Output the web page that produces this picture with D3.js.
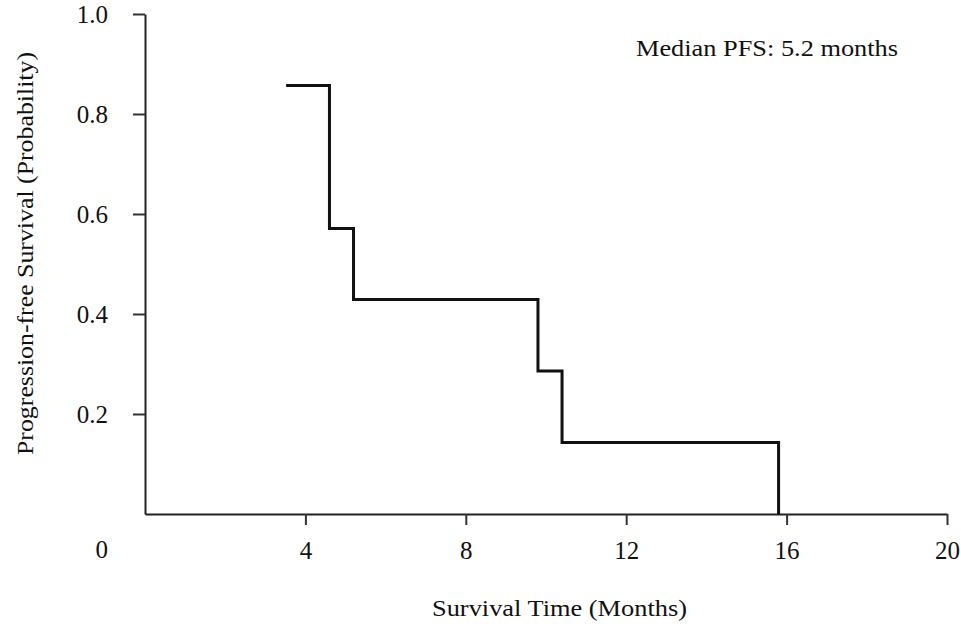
<!DOCTYPE html>
<html lang="en">
<head>
    <meta charset="UTF-8">
    <title>Progression-free Survival</title>
    <script src="https://d3js.org/d3.v7.min.js"></script>
    <style>
        body { margin: 0; background: #fff; }
        text { font-family: "Liberation Serif", "Times New Roman", serif; fill: #111; }
    </style>
</head>
<body>
    <script>
        // Kaplan-Meier steps (time in months, survival probability)
        var stepTimes = [3.52, 4.6, 5.2, 9.8, 10.4, 15.8];
        var stepSurv  = [0.857, 0.571, 0.429, 0.286, 0.143, 0];
        var xTicks = [4, 8, 12, 16, 20];
        var yTicks = [0.2, 0.4, 0.6, 0.8, 1.0];

        var margin = {top: 14, right: 14, bottom: 110, left: 145};

        var x = d3.scaleLinear().domain([0, 20]).range([0, 802]);
        var y = d3.scaleLinear().domain([0, 1]).range([500, 0]);

        var svg = d3.select("body").append("svg")
            .attr("width", 961)
            .attr("height", 624)
          .append("g")
            .attr("transform", "translate(" + margin.left + "," + margin.top + ")");

        // x axis
        var xAxis = svg.append("g")
            .attr("transform", "translate(0,500)")
            .call(d3.axisBottom(x).tickValues(xTicks).tickSize(11).tickPadding(16).tickSizeOuter(0));
        xAxis.select(".domain").attr("stroke", "#222").attr("stroke-width", 2);
        xAxis.selectAll(".tick line").attr("stroke", "#333").attr("stroke-width", 2);
        xAxis.selectAll("text").style("font-size", "25px").attr("fill", "#111")
            .style("font-family", "Liberation Serif, serif");

        // y axis
        var yAxis = svg.append("g")
            .call(d3.axisLeft(y).tickValues(yTicks).tickFormat(d3.format(".1f"))
                .tickSize(12).tickPadding(25).tickSizeOuter(0));
        yAxis.select(".domain").attr("stroke", "#222").attr("stroke-width", 2);
        yAxis.selectAll(".tick line").attr("stroke", "#333").attr("stroke-width", 2);
        yAxis.selectAll("text").style("font-size", "25px").attr("fill", "#111")
            .style("font-family", "Liberation Serif, serif");

        // the lone "0" at the corner
        svg.append("text")
            .attr("x", -37)
            .attr("y", y(0) + 44)
            .style("text-anchor", "end")
            .style("font-size", "25px")
            .text("0");

        // survival curve
        var pts = [[stepTimes[0], stepSurv[0]]];
        for (var i = 1; i < stepTimes.length; i++) {
            pts.push([stepTimes[i], stepSurv[i - 1]]);
            pts.push([stepTimes[i], stepSurv[i]]);
        }
        svg.append("path")
            .datum(pts)
            .attr("fill", "none")
            .attr("stroke", "#111")
            .attr("stroke-width", 3)
            .attr("d", d3.line()
                .x(function(d) { return x(d[0]); })
                .y(function(d) { return y(d[1]); }));

        // axis labels
        svg.append("text")
            .attr("x", 287)
            .attr("y", 602)
            .attr("textLength", 255)
            .attr("lengthAdjust", "spacingAndGlyphs")
            .style("font-size", "24px")
            .text("Survival Time (Months)");

        svg.append("text")
            .attr("transform", "rotate(-90)")
            .attr("x", -(455 - margin.top))
            .attr("y", -112)
            .attr("textLength", 403)
            .attr("lengthAdjust", "spacingAndGlyphs")
            .style("font-size", "24px")
            .text("Progression-free Survival (Probability)");

        svg.append("text")
            .attr("x", 491)
            .attr("y", 42)
            .attr("textLength", 262)
            .attr("lengthAdjust", "spacingAndGlyphs")
            .style("font-size", "24px")
            .text("Median PFS:  5.2 months");
    </script>
</body>
</html>
